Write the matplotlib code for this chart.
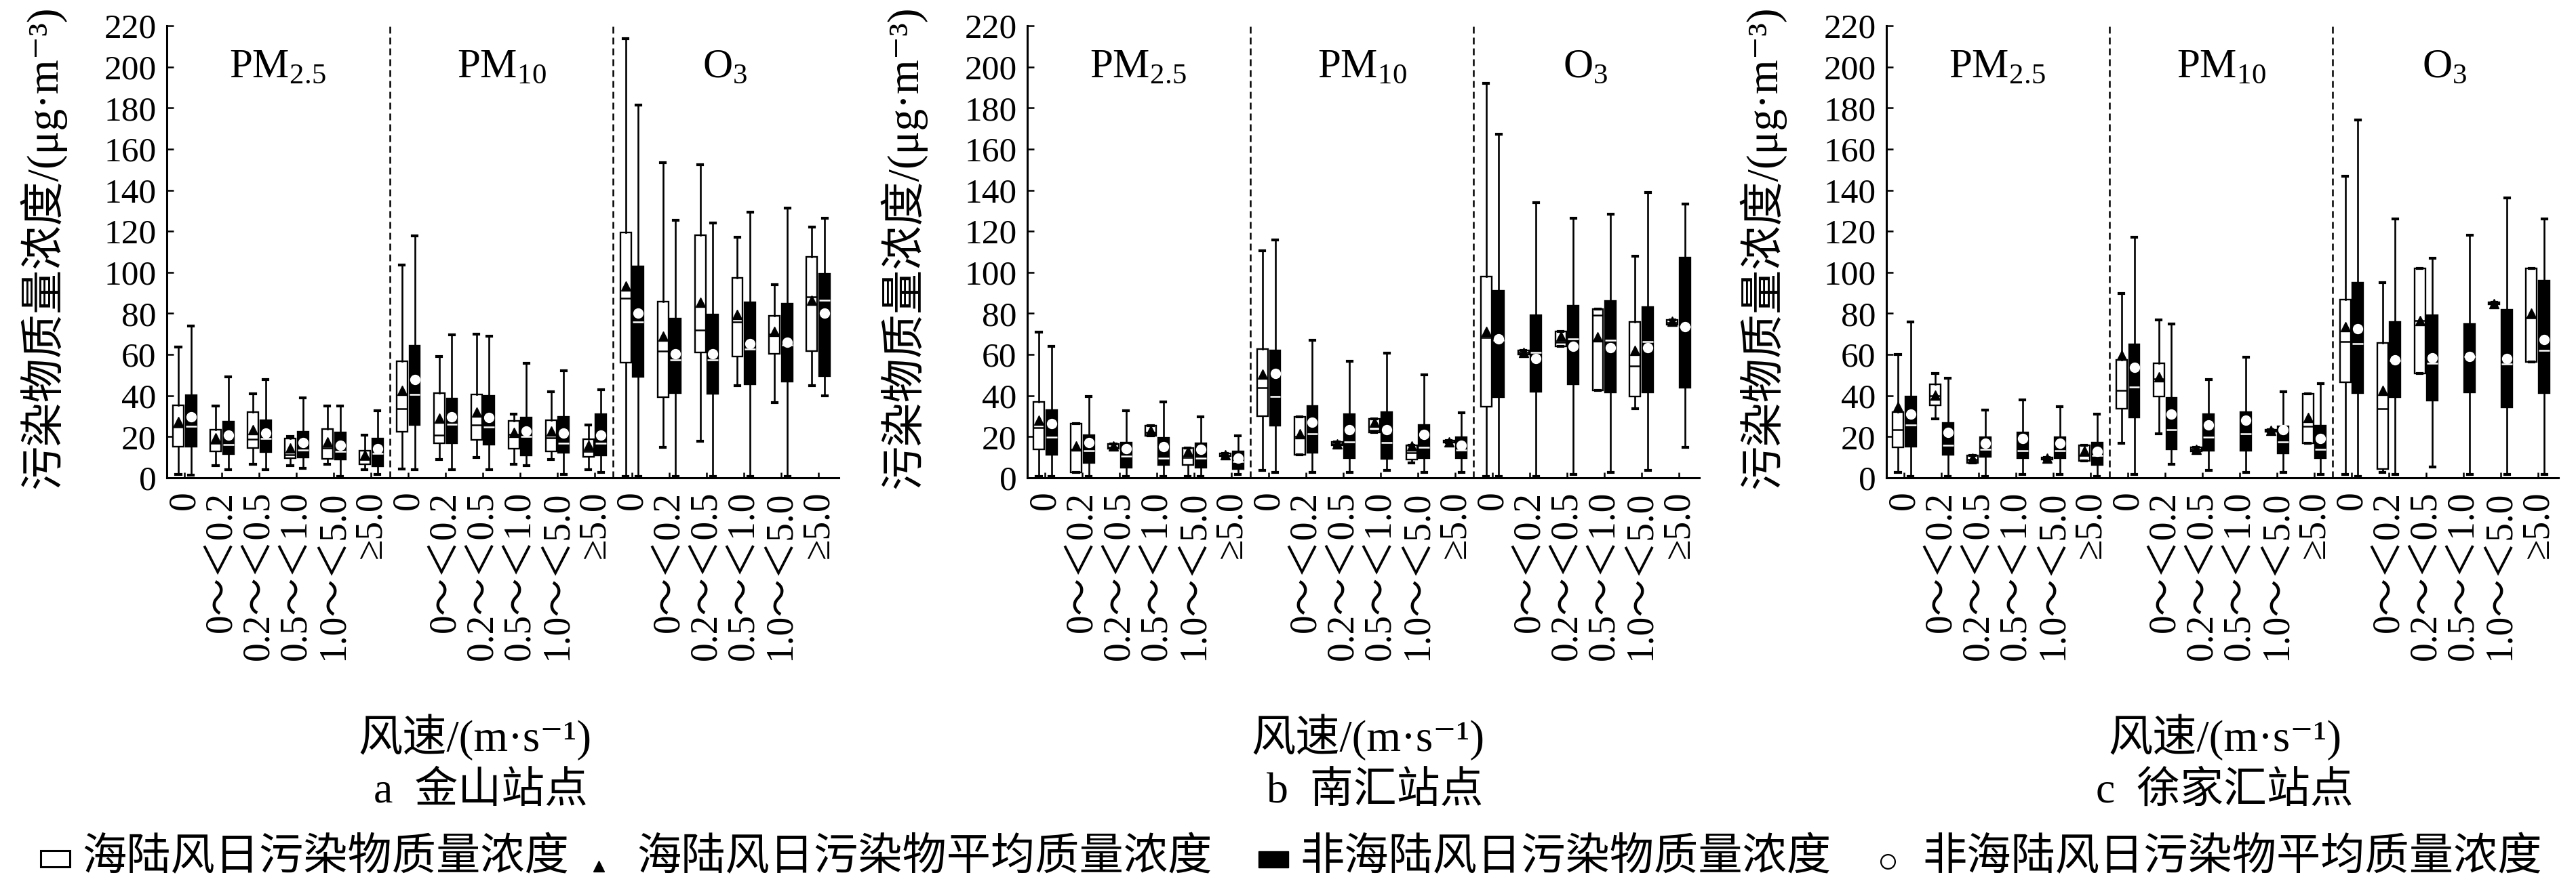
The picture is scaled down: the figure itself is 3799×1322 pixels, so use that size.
import matplotlib
matplotlib.use("Agg")
import matplotlib.pyplot as plt
from matplotlib.patches import Rectangle
from matplotlib.lines import Line2D

plt.rcParams['font.family'] = ['Liberation Serif', 'DejaVu Serif', 'Noto Sans CJK SC']
plt.rcParams['mathtext.fontset'] = 'custom'
plt.rcParams['mathtext.rm'] = 'Liberation Serif'

W, H = 3799, 1322

wind_bins = ["0", "0～＜0.2", "0.2～＜0.5", "0.5～＜1.0", "1.0～＜5.0", "≥5.0"]
pollutants = ["PM$_{\\mathrm{2.5}}$", "PM$_{\\mathrm{10}}$", "O$_{\\mathrm{3}}$"]
stations = ["a  金山站点", "b  南汇站点", "c  徐家汇站点"]

# rows: whislo, q1, med, q3, whishi, mean ; order PM2.5 x6, PM10 x6, O3 x6
jinshan_sea = [
    [1.6, 15.2, 24.7, 35.4, 63.6, 27.5], [5.8, 13, 16.8, 23.4, 35, 19.6],
    [6.7, 14.6, 18.7, 31.9, 41, 23.4], [5.8, 9.7, 11.3, 19, 20.1, 14.6],
    [6.7, 9.3, 14.6, 23.7, 35, 17.4], [3.8, 6.7, 9, 13.2, 20.9, 11.3],
    [4.4, 22.3, 33.6, 56.7, 103.7, 42.7], [8.8, 16.8, 20.9, 41.2, 58.9, 28.9],
    [9.9, 18.5, 25.6, 40.5, 69.9, 31.9], [6.7, 14.3, 21, 27.8, 30.9, 22.1],
    [8.8, 12.8, 19.6, 28.1, 41.9, 22.9], [3.8, 10.2, 13, 18.7, 25.8, 15.7],
    [0.7, 56.1, 87.5, 119.4, 213.8, 93.3], [14.9, 39.2, 61.7, 85.6, 153.5, 69],
    [17.8, 61, 72, 118.1, 152.3, 85.3], [44.8, 59.1, 76, 97.4, 117.2, 79.4],
    [36.7, 60.3, 69.8, 78.7, 94.1, 71.3], [44.8, 61.7, 88.2, 107.4, 122.1, 86.3],
]
jinshan_non = [
    [1.4, 15.2, 25.1, 40.1, 74, 29.7], [3.8, 11.5, 16.3, 27.3, 49, 20.7],
    [3.8, 12.4, 19, 28.1, 47.9, 21.8], [4.7, 9.9, 13.5, 22.5, 38.8, 17.2],
    [0.7, 8.8, 13, 22, 35, 15.7], [1.8, 5.5, 12, 19.2, 32.8, 14.1],
    [3.8, 25.6, 40.5, 64.4, 117.9, 47.8], [3.8, 16.8, 26.2, 38.5, 69.6, 29.7],
    [3.8, 16.3, 24.7, 39.9, 68.8, 29.5], [5.8, 11, 20.1, 29.5, 55.8, 22.9],
    [1.8, 12.1, 16.8, 29.7, 52, 21.8], [2.7, 11, 16.8, 30.9, 43, 20.7],
    [0.7, 49.2, 76, 103, 181.3, 80.1], [0.7, 41.1, 57.3, 77.5, 125.3, 60.3],
    [0.7, 40.8, 57.3, 79.4, 124, 60.3], [0.7, 45.5, 62.8, 85.3, 129.4, 65.4],
    [0.7, 47, 64.7, 84.8, 131.4, 66.1], [39.9, 49.5, 86.3, 99.3, 126.2, 80.1],
]
nanhui_sea = [
    [0.7, 14, 24.3, 36.8, 70.9, 28], [2.5, 2.5, 14, 26.5, 26.5, 15.4],
    [14.3, 14.3, 15, 16.5, 16.5, 15.5], [20.6, 20.6, 22, 25.4, 25.4, 23],
    [0.7, 6.3, 10, 14.4, 14.4, 12.8], [10.5, 10.5, 11, 12, 12, 11.3],
    [3.7, 30.1, 43.8, 62.8, 110.6, 50.3], [11.3, 11.3, 20, 29.7, 29.7, 21.3],
    [15.8, 15.8, 16.5, 17.5, 17.5, 16.6], [22, 22, 23, 28.7, 28.7, 27.2],
    [7.4, 8.8, 12.2, 15.9, 15.9, 15.4], [17, 17, 17.5, 18.3, 18.3, 17.6],
    [0.7, 34.6, 68.4, 97.8, 192, 71.3], [60, 60, 61, 62, 62, 61],
    [64, 64, 66, 71.3, 71.3, 69], [42.7, 42.7, 79.3, 82, 82, 68.6],
    [33.8, 39.6, 54.5, 75.8, 108, 61.9], [74.5, 74.5, 75.5, 77, 77, 76.1],
]
nanhui_non = [
    [0.7, 11.3, 19.9, 33, 64, 26.5], [0.7, 7.4, 13.2, 20.9, 39.7, 17.2],
    [0.7, 5, 10.7, 17, 32.6, 14.3], [0.7, 6.3, 9.6, 19.4, 36.8, 15.1],
    [0.7, 5.1, 9.6, 16.9, 29.7, 14], [1.5, 4.4, 8, 12.8, 20.6, 9.6],
    [2.5, 25.3, 39.7, 62, 115.9, 50.7], [2.5, 12.2, 21.3, 34.9, 66.9, 27.2],
    [2.5, 9.6, 17.6, 30.9, 56.6, 23.5], [3.7, 9.3, 17.2, 31.9, 60.7, 23.5],
    [2.5, 9.6, 14.7, 25.7, 50, 21], [2.5, 9.6, 13.5, 19.9, 31.6, 15.7],
    [0.7, 39.3, 66.9, 90.9, 167.2, 67.6], [0.7, 41.9, 61, 79, 133.8, 58.1],
    [1.5, 45.6, 67.6, 83.8, 126.2, 64], [2.5, 41.5, 66.9, 86, 128.2, 63.2],
    [3.7, 41.5, 66.2, 83, 139, 63.2], [15, 44, 73.5, 107.3, 133.1, 73.5],
]
xujiahui_sea = [
    [2.5, 14.7, 23.5, 31.9, 59.9, 34.6], [28.7, 35.3, 40, 45.6, 50.7, 40.4],
    [7.4, 7.4, 9, 11, 11, 9.6], None,
    [9, 9, 9.3, 9.8, 9.8, 9.6], [8.4, 8.4, 11, 15.7, 15.7, 13.2],
    [16.9, 33.8, 42.6, 57.4, 89.7, 59.6], [21.6, 39.7, 48, 55.9, 76.8, 49.3],
    [13, 13, 14, 15, 15, 14], None,
    [22.5, 22.5, 23, 23.5, 23.5, 23], [16.9, 16.9, 25, 40.9, 40.9, 29.4],
    [1.5, 46.6, 66.2, 86.8, 146.8, 73.5], [2.5, 4.4, 33.8, 65.7, 95.1, 42.6],
    [50.7, 50.7, 76.5, 101.8, 101.8, 76.5], None,
    [84.5, 84.5, 85, 85.5, 85.5, 84.9], [56.3, 56.3, 78, 101.8, 101.8, 80.1],
]
xujiahui_non = [
    [0.7, 15.1, 25.7, 39.7, 75.7, 30.9], [0.7, 11.3, 15.7, 26.8, 48.5, 22],
    [0.7, 10.3, 14, 19.9, 33.1, 16.9], [1.5, 9.6, 13.2, 22, 37.8, 19.1],
    [1.5, 9.6, 13.2, 19.9, 34.6, 16.9], [0.7, 6.3, 11, 17.2, 30.9, 12.8],
    [1.5, 29.4, 44.1, 65, 117, 53.7], [6.6, 14, 23.5, 39, 75, 30.9],
    [3.7, 13.2, 19.9, 30.9, 47.8, 25.7], [2.5, 13.2, 21.3, 31.9, 58.8, 27.9],
    [2.5, 11.8, 17.6, 25, 41.9, 23.5], [1.5, 9.6, 14, 25.4, 46, 19.1],
    [0.7, 41.2, 65.4, 94.9, 174, 72.4], [1.5, 39.3, 57, 75.7, 126, 57.4],
    [5.4, 37.5, 55.9, 79, 106.9, 58.4], [1.5, 41.5, 59, 75, 118, 59.1],
    [1.5, 34.3, 55.4, 81.9, 136.3, 58.1], [1.5, 41.2, 62, 96, 126, 67.2],
]

station_data = [(jinshan_sea, jinshan_non), (nanhui_sea, nanhui_non),
                (xujiahui_sea, xujiahui_non)]


def make_stats(rows):
    stats, pos = [], []
    for i, r in enumerate(rows):
        if r is None:
            continue
        lo, q1, med, q3, hi, mean = r
        stats.append(dict(whislo=lo, q1=q1, med=med, q3=q3, whishi=hi,
                          mean=mean, fliers=[]))
        pos.append(i)
    return stats, pos


def fx(px):
    return px / W


def fy(py):
    return 1 - py / H


fig = plt.figure(figsize=(W / 100, H / 100), dpi=100)

ax_lefts = [246, 1515, 2782]
xlabel_x = [700, 2017, 3281]
station_x = [709, 2028, 3281]

for k in range(3):
    sea, non = station_data[k]
    ax = fig.add_axes([fx(ax_lefts[k]), fy(705), 991 / W, 667 / H])

    common = dict(widths=0.29, patch_artist=True, showmeans=True, showfliers=False,
                  manage_ticks=False, capwidths=0.13,
                  whiskerprops=dict(color='black', linewidth=1.9),
                  capprops=dict(color='black', linewidth=3))

    st, pos = make_stats(sea)
    ax.bxp(st, positions=[p - 0.17 for p in pos],
           boxprops=dict(facecolor='white', edgecolor='black', linewidth=1.7),
           medianprops=dict(color='black', linewidth=1.8),
           meanprops=dict(marker='^', markerfacecolor='black',
                          markeredgecolor='black', markersize=10),
           **common)

    st, pos = make_stats(non)
    ax.bxp(st, positions=[p + 0.17 for p in pos],
           boxprops=dict(facecolor='black', edgecolor='black', linewidth=1.7),
           medianprops=dict(color='white', linewidth=1.8),
           meanprops=dict(marker='o', markerfacecolor='white',
                          markeredgecolor='white', markersize=10),
           **common)

    for xv in (5.5, 11.5):
        ax.axvline(xv, color='black', linewidth=1.8, linestyle=(0, (4, 2.4)))

    for j in range(3):
        ax.text(2.5 + 6 * j, 195, pollutants[j], ha='center', va='baseline', fontsize=44)

    ax.set_xlim(-0.48, 17.55)
    ax.set_ylim(0, 220)
    ax.set_xticks(range(18))
    ax.set_xticklabels(wind_bins * 3, rotation=90, fontsize=40)
    ax.set_yticks(range(0, 221, 20))
    ax.tick_params(axis='x', direction='in', length=5.5, width=1.8, pad=14)
    ax.tick_params(axis='y', direction='in', length=7, width=1.8, labelsize=37, pad=11)
    for side in ('top', 'right'):
        ax.spines[side].set_visible(False)
    for side in ('left', 'bottom'):
        ax.spines[side].set_linewidth(2.2)

    ax.text(-0.185, 0.51, '污染物质量浓度/(μg·m⁻³)', rotation=90, ha='center',
            va='center', transform=ax.transAxes, fontsize=47)

    fig.text(fx(xlabel_x[k]), fy(1088), '风速/(m·s⁻¹)', ha='center', va='center',
             fontsize=47)
    fig.text(fx(station_x[k]), fy(1168), stations[k], ha='center', va='center',
             fontsize=46)

# legend row
fig.add_artist(Rectangle((fx(60), fy(1279)), 43 / W, 24 / H, transform=fig.transFigure,
                         facecolor='white', edgecolor='black', linewidth=2.2))
fig.add_artist(Line2D([fx(883)], [fy(1278)], transform=fig.transFigure, marker='^',
                      markersize=11, color='black', linestyle='none'))
fig.add_artist(Rectangle((fx(1856), fy(1280)), 44 / W, 24 / H, transform=fig.transFigure,
                         facecolor='black', edgecolor='black', linewidth=1))
fig.add_artist(Line2D([fx(2784)], [fy(1271)], transform=fig.transFigure, marker='o',
                      markersize=15, markerfacecolor='white', markeredgecolor='black',
                      markeredgewidth=1.6, linestyle='none'))

legend_texts = ["海陆风日污染物质量浓度", "海陆风日污染物平均质量浓度",
                "非海陆风日污染物质量浓度", "非海陆风日污染物平均质量浓度"]
legend_x = [121, 939, 1917, 2835]
for t, x in zip(legend_texts, legend_x):
    fig.text(fx(x), fy(1267), t, ha='left', va='center', fontsize=47)

fig.savefig("out.png", dpi=100)
